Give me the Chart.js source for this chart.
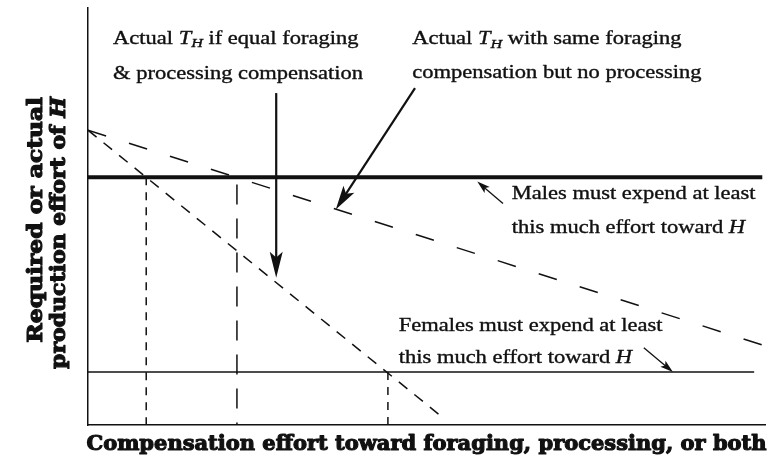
<!DOCTYPE html>
<html>
<head>
<meta charset="utf-8">
<script src="https://cdn.jsdelivr.net/npm/chart.js@4.4.1/dist/chart.umd.min.js"></script>
<style>
  html, body { margin: 0; padding: 0; background: #fff; }
  #wrap { width: 775px; height: 464px; }
</style>
</head>
<body>
<div id="wrap"><canvas id="chart" width="775" height="464"></canvas></div>
<script>
// both axes are arbitrary effort units, 0..100
const maleRequired = [{x: 0, y: 59.4}, {x: 99.6, y: 59.4}];
const femaleRequired = [{x: 0, y: 12.7}, {x: 98.4, y: 12.7}];
const thNoProcessing = [{x: 0, y: 70.7}, {x: 100, y: 19.0}];
const thEqualComp = [{x: 0, y: 70.7}, {x: 52.7, y: 1.4}];
const dropMaleEqual = [{x: 8.6, y: 59.4}, {x: 8.6, y: 0}];
const dropMaleNoProc = [{x: 22.0, y: 57.7}, {x: 22.0, y: 0}];
const dropFemaleEqual = [{x: 44.3, y: 12.7}, {x: 44.3, y: 0}];

const xTitle = 'Compensation effort toward foraging, processing, or both';
const yTitle = [[['Required or actual', '']], [['production effort of ', ''], ['H', 'i']]];

const INK = '#111';
const SERIF = '"Liberation Serif", "Times New Roman", serif';
const HEAVY = '"DejaVu Serif", serif';

// parts: [text, style]  style '' plain, 'i' italic, 's' italic subscript
function richWidth(ctx, parts, size, weight, family) {
    let w = 0;
    parts.forEach(([t, st]) => {
        const s = st === 's' ? size * 0.72 : size;
        ctx.font = `${st ? 'italic ' : ''}${weight} ${s}px ${family}`;
        w += ctx.measureText(t).width;
    });
    return w;
}

function drawRich(ctx, parts, x, y, size, stretch, weight, family, align, bolden) {
    ctx.save();
    ctx.translate(x, y);
    ctx.scale(stretch, 1);
    ctx.fillStyle = INK;
    ctx.strokeStyle = INK;
    ctx.lineJoin = 'round';
    ctx.textBaseline = 'middle';
    ctx.textAlign = 'left';
    const w = richWidth(ctx, parts, size, weight, family);
    let cx = align === 'center' ? -w / 2 : align === 'right' ? -w : 0;
    parts.forEach(([t, st]) => {
        const s = st === 's' ? size * 0.72 : size;
        const dy = st === 's' ? size * 0.25 : 0;
        ctx.font = `${st ? 'italic ' : ''}${weight} ${s}px ${family}`;
        ctx.fillText(t, cx, dy);
        if (bolden) {
            ctx.lineWidth = bolden;
            ctx.strokeText(t, cx, dy);
        }
        cx += ctx.measureText(t).width;
    });
    ctx.restore();
}

function arrow(ctx, x1, y1, x2, y2, lw, len, wid) {
    const a = Math.atan2(y2 - y1, x2 - x1);
    ctx.save();
    ctx.strokeStyle = INK;
    ctx.fillStyle = INK;
    ctx.lineWidth = lw;
    ctx.beginPath();
    ctx.moveTo(x1, y1);
    ctx.lineTo(x2 - Math.cos(a) * len * 0.7, y2 - Math.sin(a) * len * 0.7);
    ctx.stroke();
    ctx.translate(x2, y2);
    ctx.rotate(a);
    ctx.beginPath();
    ctx.moveTo(0, 0);
    ctx.lineTo(-len, -wid / 2);
    ctx.lineTo(-len * 0.78, 0);
    ctx.lineTo(-len, wid / 2);
    ctx.closePath();
    ctx.fill();
    ctx.restore();
}

const notes = [
    {x: 3.7, y: 92.6, parts: [['Actual ', ''], ['T', 'i'], ['H', 's'], [' if equal foraging', '']]},
    {x: 3.7, y: 84.2, parts: [['& processing compensation', '']]},
    {x: 47.9, y: 92.4, parts: [['Actual ', ''], ['T', 'i'], ['H', 's'], [' with same foraging', '']]},
    {x: 47.9, y: 84.4, parts: [['compensation but no processing', '']]},
    {x: 62.6, y: 55.3, parts: [['Males must expend at least', '']]},
    {x: 62.6, y: 47.2, parts: [['this much effort toward ', ''], ['H', 'i']]},
    {x: 45.9, y: 23.6, parts: [['Females must expend at least', '']]},
    {x: 45.9, y: 15.9, parts: [['this much effort toward ', ''], ['H', 'i']]}
];

const arrows = [
    {from: [27.8, 79.6], to: [27.8, 35.3], lw: 2.2, len: 26, wid: 13},
    {from: [48.3, 80.8], to: [36.6, 51.7], lw: 2.2, len: 24, wid: 13},
    {from: [61.3, 53.1], to: [57.5, 58.4], lw: 1.3, len: 13, wid: 8},
    {from: [82.1, 18.5], to: [86.4, 12.7], lw: 1.3, len: 13, wid: 8}
];

const annotate = {
    id: 'annotate',
    afterDatasetsDraw(chart) {
        const ctx = chart.ctx;
        const xs = chart.scales.x, ys = chart.scales.y;
        arrows.forEach(a => {
            arrow(ctx, xs.getPixelForValue(a.from[0]), ys.getPixelForValue(a.from[1]),
                xs.getPixelForValue(a.to[0]), ys.getPixelForValue(a.to[1]), a.lw, a.len, a.wid);
        });
        notes.forEach(n => {
            drawRich(ctx, n.parts, xs.getPixelForValue(n.x), ys.getPixelForValue(n.y), 18, 1.25, 'normal', SERIF, 'left', 0.35);
        });
    },
    afterDraw(chart) {
        const ctx = chart.ctx;
        const area = chart.chartArea;
        drawRich(ctx, [[xTitle, '']], (area.left + area.right) / 2, 445, 20, 1.05, 'bold', HEAVY, 'center', 1.1);
        ctx.save();
        ctx.translate(0, 97);
        ctx.rotate(-Math.PI / 2);
        drawRich(ctx, yTitle[0], 0, 37, 20, 1.17, 'bold', HEAVY, 'right', 1.1);
        drawRich(ctx, yTitle[1], 0, 60, 20, 1.1, 'bold', HEAVY, 'right', 1.1);
        ctx.restore();
    }
};

function line(data, width, dash) {
    return {
        data: data,
        showLine: true,
        borderColor: INK,
        borderWidth: width,
        borderDash: dash || [],
        pointRadius: 0,
        fill: false
    };
}

new Chart(document.getElementById('chart'), {
    type: 'scatter',
    data: {
        datasets: [
            line(maleRequired, 4),
            line(femaleRequired, 1.5),
            line(thNoProcessing, 1.5, [19, 24]),
            line(thEqualComp, 1.5, [11, 9]),
            line(dropMaleEqual, 1.5, [8, 7]),
            line(dropMaleNoProc, 1.5, [20, 14]),
            line(dropFemaleEqual, 1.5, [8, 7])
        ]
    },
    options: {
        responsive: false,
        animation: false,
        events: [],
        layout: {padding: {left: 80, top: 8, right: 10, bottom: 31}},
        plugins: {legend: {display: false}, tooltip: {enabled: false}},
        scales: {
            x: {
                type: 'linear', min: 0, max: 100,
                ticks: {display: false},
                grid: {display: false},
                border: {display: true, color: INK, width: 1.5}
            },
            y: {
                type: 'linear', min: 0, max: 100,
                ticks: {display: false},
                grid: {display: false},
                border: {display: true, color: INK, width: 1.5}
            }
        }
    },
    plugins: [annotate]
});
</script>
</body>
</html>
